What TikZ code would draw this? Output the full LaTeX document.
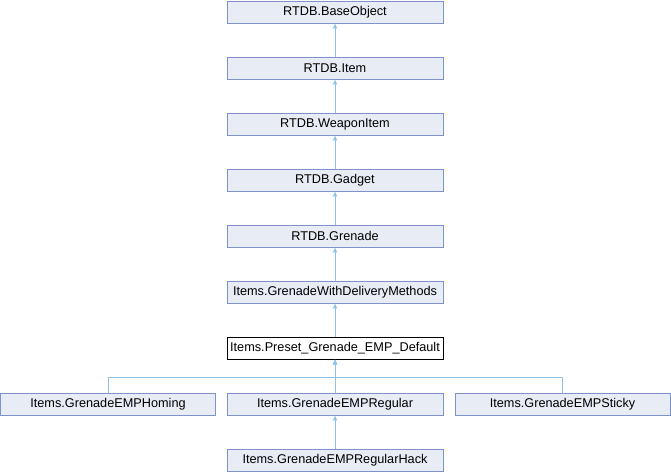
\documentclass[tikz,border=0pt]{standalone}
\usepackage{fontspec}
\setmainfont{Liberation Sans}
\usetikzlibrary{arrows.meta}
\definecolor{boxfill}{HTML}{E8ECF5}
\definecolor{boxdraw}{HTML}{7F93CB}
\definecolor{edge}{HTML}{8FC3E6}
\tikzset{
  cls/.style={draw=boxdraw, fill=boxfill, line width=0.9pt, minimum width=216pt, minimum height=22pt, inner sep=0pt, font=\fontsize{12.7}{14}\selectfont, text=black},
  cur/.style={cls, draw=black, fill=white},
  inh/.style={draw=edge, line width=0.8pt, -{Latex[length=5pt,width=5pt]}}
}
\begin{document}
\begin{tikzpicture}[x=1pt,y=1pt]
\useasboundingbox (0,0) rectangle (671,-472);
\node[cls] (base) at (335,-12) {RTDB.BaseObject};
\node[cls] (item) at (335,-68) {RTDB.Item};
\node[cls] (weap) at (335,-124) {RTDB.WeaponItem};
\node[cls] (gadg) at (335,-180) {RTDB.Gadget};
\node[cls] (gren) at (335,-236) {RTDB.Grenade};
\node[cls] (deliv) at (335,-292) {Items.GrenadeWithDeliveryMethods};
\node[cur] (preset) at (335,-348) {Items.Preset\_Grenade\_EMP\_Default};
\node[cls, minimum width=215pt] (homing) at (108,-404) {Items.GrenadeEMPHoming};
\node[cls] (regular) at (335,-404) {Items.GrenadeEMPRegular};
\node[cls, minimum width=215pt] (sticky) at (562.5,-404) {Items.GrenadeEMPSticky};
\node[cls] (hack) at (335,-460) {Items.GrenadeEMPRegularHack};
\coordinate (j) at (335,-377);
\draw[inh] (item) -- (base);
\draw[inh] (weap) -- (item);
\draw[inh] (gadg) -- (weap);
\draw[inh] (gren) -- (gadg);
\draw[inh] (deliv) -- (gren);
\draw[inh] (preset) -- (deliv);
\draw[inh] (regular) -- (preset);
\draw[inh] (homing.north) |- (j) -- (preset.south);
\draw[inh] (sticky.north) |- (j) -- (preset.south);
\draw[inh] (hack) -- (regular);
\end{tikzpicture}
\end{document}
